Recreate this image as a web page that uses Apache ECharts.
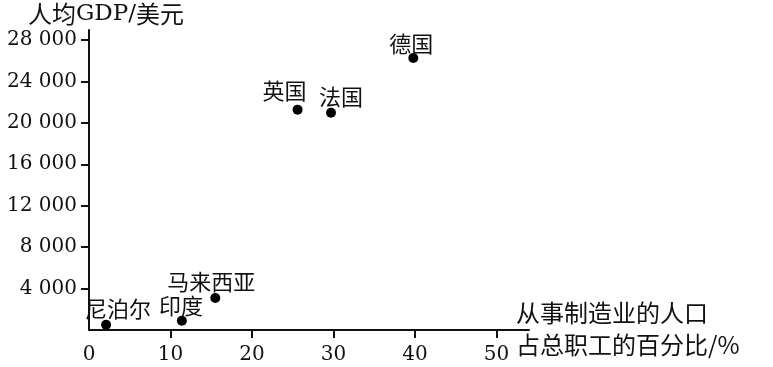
<!DOCTYPE html>
<html>
<head>
<meta charset="utf-8">
<script src="https://cdn.jsdelivr.net/npm/echarts@6/dist/echarts.min.js"></script>
<style>html,body{margin:0;padding:0;background:#fff;}#c{width:773px;height:367px;}</style>
</head>
<body>
<div id="c"></div>
<script>
var countries = ['尼泊尔', '印度', '马来西亚', '英国', '法国', '德国'];
var manufShare = [2.1, 11.4, 15.5, 25.6, 29.7, 39.8];
var gdpPerCapita = [500, 900, 3100, 21300, 21000, 26300];
var xTicks = [0, 10, 20, 30, 40, 50];
var yTicks = [4000, 8000, 12000, 16000, 20000, 24000, 28000];

var labelOffsets = {
  '尼泊尔': [12, 0], '印度': [-1, 1], '马来西亚': [-4, 0],
  '英国': [-13, -3], '法国': [10, 0], '德国': [-2, 2]
};

var ink = '#111';
var serif = 'DejaVu Serif';
var cjk = 'Noto Sans CJK SC';

var chart = echarts.init(document.getElementById('c'), null, {renderer: 'canvas'});

var points = countries.map(function (n, i) {
  return {
    name: n,
    value: [manufShare[i], gdpPerCapita[i]],
    label: {offset: labelOffsets[n]}
  };
});

function fmtNum(v) {
  var s = String(v);
  if (s.length > 3) s = s.slice(0, s.length - 3) + ' ' + s.slice(s.length - 3);
  return s;
}

chart.setOption({
  animation: false,
  backgroundColor: '#fff',
  grid: [
    {left: 89, right: 244, top: 30, bottom: 37},
    {left: 89, width: 407.5, top: 40, bottom: 37}
  ],
  xAxis: [
    {gridIndex: 0, type: 'value', min: 0, max: 54,
     axisLine: {show: true, lineStyle: {color: ink, width: 2}},
     axisTick: {show: false}, axisLabel: {show: false}, splitLine: {show: false}},
    {gridIndex: 1, type: 'value', min: 0, max: 50, interval: 10,
     axisLine: {show: false},
     axisTick: {show: true, length: 8, customValues: xTicks.slice(1), lineStyle: {color: ink, width: 2}},
     axisLabel: {show: true, margin: 15, customValues: xTicks, color: ink, fontFamily: serif, fontSize: 20},
     splitLine: {show: false}}
  ],
  yAxis: [
    {gridIndex: 0, type: 'value', min: 0, max: 29000,
     axisLine: {show: true, lineStyle: {color: ink, width: 2}},
     axisTick: {show: false}, axisLabel: {show: false}, splitLine: {show: false}},
    {gridIndex: 1, type: 'value', min: 0, max: 28000, interval: 4000,
     axisLine: {show: false},
     axisTick: {show: true, length: 8, customValues: yTicks, lineStyle: {color: ink, width: 2}},
     axisLabel: {show: true, margin: 12, customValues: yTicks, color: ink, fontFamily: serif, fontSize: 20, formatter: fmtNum},
     splitLine: {show: false}}
  ],
  graphic: [
    {type: 'text', left: 28, top: 2,
     style: {text: '{a|人均}{b|GDP/}{a|美元}',
       rich: {a: {fontFamily: cjk, fontSize: 24, fill: ink}, b: {fontFamily: serif, fontSize: 23, fill: ink}}}},
    {type: 'text', left: 516, top: 297,
     style: {text: '从事制造业的人口\n占总职工的百分比/%', fontFamily: cjk, fontSize: 24, lineHeight: 32, fill: ink}}
  ],
  series: [{
    type: 'scatter',
    xAxisIndex: 0, yAxisIndex: 0,
    symbol: 'circle', symbolSize: 10,
    itemStyle: {color: '#000', opacity: 1},
    label: {show: true, position: 'top', distance: 0, formatter: '{b}',
      fontFamily: cjk, fontSize: 22, color: ink},
    data: points
  }]
});
</script>
</body>
</html>
